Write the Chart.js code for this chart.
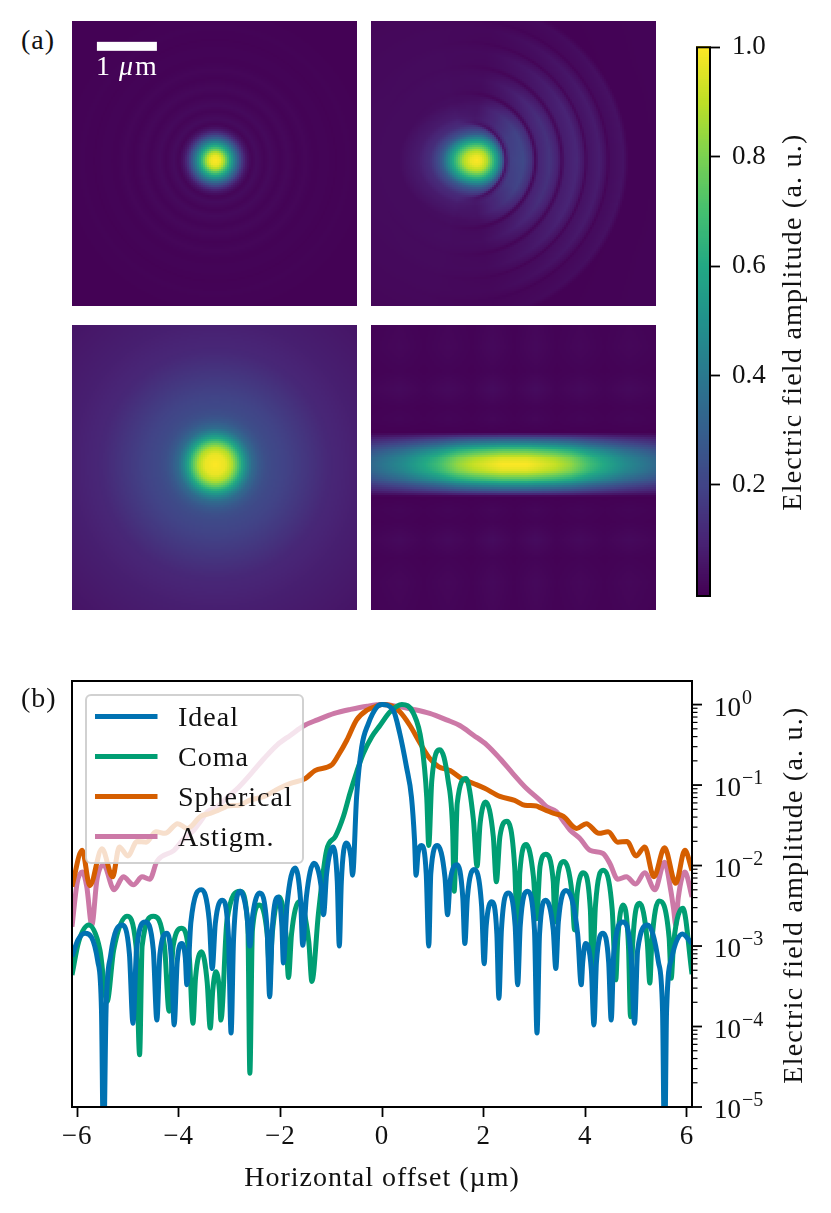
<!DOCTYPE html>
<html>
<head>
<meta charset="utf-8">
<script src="https://cdn.jsdelivr.net/npm/chart.js@4"></script>
<style>
  html, body { margin: 0; padding: 0; background: #fff; }
  #page { position: relative; width: 831px; height: 1213px; overflow: hidden; font-family: "Liberation Serif", serif; color: #111; }
  canvas { position: absolute; }
  .note { position: absolute; font-size: 28px; white-space: nowrap; line-height: 1; letter-spacing: 1px; }
  .side { transform: translate(-50%, -50%) rotate(-90deg); letter-spacing: 1.25px; }
</style>
</head>
<body>
<div id="page">
  <canvas id="panelIdeal" width="285" height="285" style="left:72px;top:21px"></canvas>
  <canvas id="panelComa" width="285" height="285" style="left:371px;top:21px"></canvas>
  <canvas id="panelSpherical" width="285" height="285" style="left:72px;top:325px"></canvas>
  <canvas id="panelAstigm" width="285" height="285" style="left:371px;top:325px"></canvas>
  <canvas id="colorbar" width="135" height="590" style="left:696px;top:27px"></canvas>
  <canvas id="profiles" width="831" height="525" style="left:0;top:670px"></canvas>
  <div class="note" style="left:21px;top:26px">(a)</div>
  <div class="note" style="left:21px;top:684px">(b)</div>
  <div class="note side" style="left:792px;top:322px">Electric field amplitude (a. u.)</div>
  <div class="note side" style="left:793px;top:895px">Electric field amplitude (a. u.)</div>
</div>
<script>
// Panel (b): horizontal cuts, x in um and log10 of the amplitude
const idealX = [-6.1,-5.98,-5.84,-5.59,-5.52,-5.48,-5.43,-5.34,-5.12,-4.97,-4.9,-4.83,-4.66,-4.5,-4.43,-4.37,-4.23,-4.14,-4.09,-4.03,-3.94,-3.87,-3.84,-3.76,-3.55,-3.4,-3.34,-3.28,-3.14,-3.02,-2.97,-2.92,-2.79,-2.66,-2.6,-2.54,-2.41,-2.26,-2.21,-2.16,-2.04,-1.97,-1.94,-1.87,-1.71,-1.6,-1.56,-1.49,-1.34,-1.2,-1.15,-1.09,-0.96,-0.88,-0.84,-0.8,-0.71,-0.61,-0.58,-0.5,-0.4,-0.27,-0.1,0,0.22,0.35,0.48,0.58,0.64,0.67,0.71,0.78,0.87,0.92,0.96,1.09,1.24,1.29,1.34,1.48,1.59,1.63,1.68,1.81,1.96,2.01,2.05,2.16,2.26,2.3,2.35,2.48,2.62,2.67,2.72,2.86,3,3.05,3.1,3.22,3.37,3.42,3.47,3.62,3.85,3.92,3.95,4,4.12,4.17,4.22,4.35,4.46,4.51,4.56,4.74,4.9,4.97,5.03,5.23,5.44,5.52,5.56,5.6,5.7,5.91,6.1];
const idealLog = [-3.13,-2.92,-2.84,-3.2,-3.8,-5.6,-3.8,-3.12,-2.74,-3.1,-3.96,-3.05,-2.7,-3.05,-3.92,-3.1,-2.84,-3.2,-3.98,-3.2,-2.97,-3.15,-3.48,-2.7,-2.3,-2.68,-3.28,-2.72,-2.43,-2.9,-4.08,-2.9,-2.32,-2.6,-3,-2.6,-2.34,-2.8,-3.63,-2.8,-2.39,-2.75,-3.21,-2.5,-2.03,-2.45,-2.99,-2.4,-1.97,-2.25,-2.61,-2.1,-1.77,-2.2,-3,-2.2,-1.72,-1.9,-2.12,-1.15,-0.53,-0.24,-0.03,0,-0.07,-0.36,-0.77,-1.15,-1.68,-2.12,-1.85,-1.75,-2.1,-3,-2.1,-1.75,-2.15,-2.61,-2.2,-1.99,-2.4,-2.97,-2.4,-2.05,-2.5,-3.22,-2.75,-2.45,-2.85,-3.65,-2.8,-2.34,-2.75,-3.48,-2.75,-2.32,-2.8,-4.08,-2.85,-2.43,-2.8,-3.28,-2.7,-2.31,-2.85,-3.48,-3.2,-2.97,-3.3,-3.98,-3.2,-2.84,-3.2,-3.92,-3.1,-2.7,-3.1,-3.96,-3.05,-2.74,-3.2,-3.8,-5.6,-3.8,-3.15,-2.85,-2.97];

const comaX = [-6.1,-5.97,-5.77,-5.55,-5.41,-5.28,-5.02,-4.84,-4.77,-4.72,-4.5,-4.28,-4.19,-4.11,-3.94,-3.79,-3.72,-3.67,-3.55,-3.44,-3.38,-3.33,-3.27,-3.2,-3.17,-3.05,-2.79,-2.64,-2.6,-2.55,-2.41,-2.26,-2.21,-2.16,-2.02,-1.89,-1.84,-1.78,-1.63,-1.44,-1.38,-1.25,-1.09,-0.92,-0.76,-0.63,-0.5,-0.37,-0.2,-0.04,0.16,0.39,0.62,0.78,0.88,0.92,0.98,1.14,1.3,1.39,1.42,1.48,1.65,1.8,1.87,1.93,2.04,2.19,2.25,2.32,2.46,2.61,2.68,2.71,2.84,2.98,3.04,3.11,3.22,3.37,3.4,3.44,3.58,3.74,3.79,3.84,3.96,4.1,4.14,4.2,4.35,4.53,4.6,4.64,4.74,4.85,4.89,4.93,5.07,5.22,5.27,5.31,5.45,5.65,5.69,5.74,5.92,6.1];
const comaLog = [-3.36,-2.95,-2.74,-3.05,-3.69,-3.05,-2.63,-3,-4.35,-3,-2.63,-3,-3.81,-3,-2.78,-3.15,-3.96,-3.4,-3.07,-3.45,-4.02,-3.55,-3.32,-3.55,-3.92,-2.68,-2.32,-2.75,-4.58,-2.8,-2.49,-2.85,-3.34,-2.85,-2.39,-2.85,-3.39,-2.85,-2.45,-2.95,-3.44,-2.59,-1.81,-1.64,-1.39,-1.1,-0.84,-0.61,-0.4,-0.26,-0.09,0,-0.11,-0.48,-1.15,-1.75,-0.94,-0.56,-0.94,-1.56,-2.32,-1.23,-0.92,-1.44,-2.01,-1.48,-1.21,-1.64,-2.2,-1.64,-1.45,-2.01,-3.11,-2.1,-1.74,-2.14,-2.66,-2.01,-1.86,-2.2,-2.7,-2.25,-1.95,-2.35,-2.8,-2.35,-2.09,-2.55,-3.34,-2.5,-2.06,-2.55,-3.42,-2.9,-2.49,-3,-3.88,-3,-2.47,-2.95,-3.46,-2.95,-2.44,-2.9,-3.4,-2.95,-2.53,-3.35];

const sphericalX = [-6.1,-5.9,-5.75,-5.51,-5.3,-5.17,-5,-4.82,-4.64,-4.45,-4.27,-4.02,-3.83,-3.57,-3.37,-3.11,-3.04,-2.81,-2.61,-2.32,-2.02,-1.8,-1.51,-1.32,-0.99,-0.86,-0.69,-0.5,-0.3,-0.1,0,0.16,0.35,0.55,0.75,0.94,1.11,1.34,1.57,1.8,2.02,2.32,2.61,2.81,3.04,3.11,3.37,3.57,3.83,4.02,4.27,4.45,4.64,4.82,5,5.17,5.35,5.56,5.78,5.96,6.1];
const sphericalLog = [-2.26,-1.81,-2.25,-1.79,-2.14,-1.77,-1.88,-1.7,-1.71,-1.58,-1.6,-1.48,-1.54,-1.39,-1.35,-1.28,-1.26,-1.25,-1.19,-1.14,-1.04,-0.98,-0.92,-0.82,-0.75,-0.63,-0.44,-0.19,-0.07,-0.02,0,-0.01,-0.09,-0.26,-0.48,-0.67,-0.77,-0.82,-0.92,-0.98,-1.04,-1.14,-1.19,-1.25,-1.26,-1.28,-1.35,-1.39,-1.54,-1.48,-1.6,-1.58,-1.71,-1.7,-1.88,-1.77,-2.14,-1.78,-2.22,-1.81,-2.06];

const astigmX = [-6.1,-6,-5.9,-5.81,-5.71,-5.61,-5.48,-5.27,-5.09,-4.89,-4.72,-4.57,-4.43,-4.09,-3.89,-3.7,-3.56,-3.43,-3.24,-3.11,-2.84,-2.58,-2.32,-2.06,-1.8,-1.53,-1.27,-0.94,-0.62,-0.29,0,0.29,0.62,0.94,1.27,1.53,1.8,2.06,2.32,2.58,2.84,3.11,3.24,3.43,3.56,3.7,3.89,4.09,4.35,4.48,4.64,4.81,4.99,5.17,5.37,5.56,5.68,5.74,5.78,5.83,5.96,6.1];
const astigmLog = [-2.76,-2.22,-2.08,-2.26,-2.74,-2.18,-1.99,-2.3,-2.14,-2.24,-2.14,-2.17,-1.95,-1.81,-1.66,-1.56,-1.44,-1.33,-1.27,-1.19,-1.04,-0.86,-0.67,-0.5,-0.38,-0.26,-0.19,-0.11,-0.06,-0.02,0,-0.02,-0.06,-0.11,-0.19,-0.26,-0.38,-0.5,-0.67,-0.86,-1.04,-1.19,-1.27,-1.33,-1.44,-1.56,-1.66,-1.81,-1.85,-1.97,-2.17,-2.14,-2.23,-2.09,-2.3,-1.96,-2.3,-2.55,-2.74,-2.4,-2.08,-2.39];

const offsetTicks = [-6, -4, -2, 0, 2, 4, 6];
const decades = [-5, -4, -3, -2, -1, 0];
const minorSteps = [2, 3, 4, 5, 6, 7, 8, 9];
const colorbarTicks = [0.2, 0.4, 0.6, 0.8, 1.0];

// Panel (a): amplitude tables, distances in um
const idealR = [0,0.08,0.14,0.2,0.27,0.33,0.39,0.44,0.5,0.55,0.6,0.69,0.82,0.92,1.08,1.2,1.36,1.5,1.65,1.8,2,2.2,2.5,3.4];
const idealA = [1,0.97,0.88,0.72,0.55,0.4,0.27,0.17,0.08,0.04,0.012,0.03,0.01,0.025,0.008,0.02,0.006,0.015,0.005,0.01,0.004,0.008,0.004,0.003];

const sphericalR = [0,0.17,0.28,0.36,0.44,0.53,0.61,0.72,0.83,0.94,1.22,1.56,1.89,2.39,3.33];
const sphericalA = [1,0.97,0.88,0.75,0.6,0.45,0.35,0.28,0.24,0.22,0.19,0.15,0.11,0.085,0.055];

const comaLobeR = [0,0.08,0.17,0.25,0.33,0.39,0.44,0.5,0.6,0.75,1,4];
const comaLobeA = [1,0.97,0.88,0.72,0.55,0.42,0.3,0.22,0.13,0.07,0.03,0.005];
const comaRingR = [0,0.62,0.66,0.72,0.92,1.06,1.12,1.18,1.36,1.5,1.56,1.62,1.81,1.92,1.96,2,2.19,2.29,2.33,2.37,2.58,2.67,3.5];
const comaRingA = [0,0,0.12,0.19,0.22,0.14,0.02,0.1,0.15,0.09,0.02,0.08,0.11,0.06,0.015,0.05,0.08,0.04,0.01,0.03,0.05,0.005,0.01];
const comaAngleDeg = [0,30,50,65,80,100,140,180];
const comaAngleW = [1,0.9,0.65,0.4,0.15,0.05,0.02,0.02];
const comaEdgeR = [0,0.5,0.58,0.64,5];
const comaEdgeW = [1,1,0.85,0,0];
const comaEdgeAngleDeg = [0,55,75,105,180];
const comaEdgeAngleW = [1,1,0.7,0,0];

const astigmAlongX = [0,0.2,0.39,0.67,0.94,1.28,1.83,2.4];
const astigmAlongA = [1,1,0.97,0.92,0.84,0.68,0.48,0.33];
const astigmAcrossY = [0,0.11,0.25,0.33,0.42,0.5,0.53,3];
const astigmAcrossA = [1,0.95,0.72,0.5,0.3,0.08,0,0];
const rippleRowY = [0,0.53,0.75,0.95,1.25,1.55,1.95,2.4];
const rippleRowA = [0,0,0.015,0.008,0.03,0.01,0.022,0.015];
const rippleColX = [0,0.36,0.7,1.1,1.5,1.9,2.4];
const rippleColW = [0.3,1,0.3,0.8,0.3,0.8,0.3];

const viridisStops = ["#440154","#482475","#414487","#355f8d","#2a788e","#21918c","#22a884","#44bf70","#7ad151","#bddf26","#fde725"];

const FONT = '"Liberation Serif", serif';
const SERIES_COLORS = ["#0072B2", "#009E73", "#D55E00", "#CC79A7"];

function lookup(xs, ys, v) {
    if (v <= xs[0]) return ys[0];
    for (let i = 1; i < xs.length; i++) {
        if (v <= xs[i]) {
            const t = (v - xs[i - 1]) / (xs[i] - xs[i - 1]);
            return ys[i - 1] + t * (ys[i] - ys[i - 1]);
        }
    }
    return ys[ys.length - 1];
}

const viridisRgb = viridisStops.map((c) => [1, 3, 5].map((i) => parseInt(c.slice(i, i + 2), 16)));
function viridis(v) {
    const p = Math.min(Math.max(v, 0), 1) * (viridisRgb.length - 1);
    const i = Math.min(Math.floor(p), viridisRgb.length - 2);
    const rgb = viridisRgb[i].map((c, k) => Math.round(c + (p - i) * (viridisRgb[i + 1][k] - c)));
    return `rgb(${rgb[0]},${rgb[1]},${rgb[2]})`;
}

// Value of each image at (x, y), looked up in the tables above
function idealCell(x, y) {
    return lookup(idealR, idealA, Math.hypot(x, y));
}
function sphericalCell(x, y) {
    return lookup(sphericalR, sphericalA, Math.hypot(x, y));
}
function comaCell(x, y) {
    const dx = x + 0.62;
    const lobe = lookup(comaLobeR, comaLobeA, Math.hypot(dx / (dx > 0 ? 1 : 1.3), y));
    const rx = x + 0.77;
    const r = Math.hypot(rx, y);
    const angle = Math.abs(Math.atan2(y, rx)) * 180 / Math.PI;
    const ring = lookup(comaRingR, comaRingA, r) * lookup(comaAngleDeg, comaAngleW, angle);
    const edge = 1 - (1 - lookup(comaEdgeR, comaEdgeW, r)) * lookup(comaEdgeAngleDeg, comaEdgeAngleW, angle);
    return lobe * edge + ring;
}
function astigmCell(x, y) {
    const ax = Math.abs(x), ay = Math.abs(y);
    return lookup(astigmAlongX, astigmAlongA, ax) * lookup(astigmAcrossY, astigmAcrossA, ay)
        + lookup(rippleRowY, rippleRowA, ay) * lookup(rippleColX, rippleColW, ax);
}

// Fills the dataset's cells through the chart's scales
const cellsPlugin = {
    id: "cells",
    beforeDatasetsDraw(chart) {
        const { ctx, scales: { x, y } } = chart;
        const meta = chart.data.datasets[0];
        const halfW = meta.cellW / 2, halfH = meta.cellH / 2;
        meta.data.forEach((c) => {
            const x0 = Math.floor(x.getPixelForValue(c.x - halfW));
            const x1 = Math.ceil(x.getPixelForValue(c.x + halfW));
            const y0 = Math.floor(y.getPixelForValue(c.y + halfH));
            const y1 = Math.ceil(y.getPixelForValue(c.y - halfH));
            ctx.fillStyle = viridis(c.v);
            ctx.fillRect(x0, y0, x1 - x0, y1 - y0);
        });
    },
};

function makePanel(id, cellFn, scaleBar) {
    const N = 143;
    const xMin = -2.395, xMax = 2.355, yMin = -2.43, yMax = 2.317;
    const cellW = (xMax - xMin) / N, cellH = (yMax - yMin) / N;
    const cells = [];
    for (let i = 0; i < N; i++) {
        for (let j = 0; j < N; j++) {
            const cx = xMin + (i + 0.5) * cellW, cy = yMin + (j + 0.5) * cellH;
            cells.push({ x: cx, y: cy, v: cellFn(cx, cy) });
        }
    }
    const plugins = [cellsPlugin];
    if (scaleBar) {
        plugins.push({
            id: "scaleBar",
            afterDatasetsDraw(chart) {
                const { ctx, scales: { x, y } } = chart;
                const left = x.getPixelForValue(-1.98), right = x.getPixelForValue(-0.98);
                const top = y.getPixelForValue(1.97);
                ctx.save();
                ctx.fillStyle = "#fff";
                ctx.fillRect(left, top, right - left, 9);
                ctx.font = `28px ${FONT}`;
                ctx.textBaseline = "alphabetic";
                ctx.fillText("1", left - 1, top + 33);
                ctx.font = `italic 28px ${FONT}`;
                ctx.fillText("\u03bc", left + 22, top + 33);
                ctx.font = `28px ${FONT}`;
                ctx.fillText("m", left + 38, top + 33);
                ctx.restore();
            },
        });
    }
    new Chart(document.getElementById(id), {
        type: "scatter",
        data: { datasets: [{ data: cells, cellW, cellH, pointRadius: 0, pointHoverRadius: 0 }] },
        options: {
            responsive: false,
            animation: false,
            events: [],
            layout: { padding: 0 },
            plugins: { legend: { display: false }, tooltip: { enabled: false } },
            scales: {
                x: { display: false, min: xMin, max: xMax },
                y: { display: false, min: yMin, max: yMax },
            },
        },
        plugins,
    });
}

makePanel("panelIdeal", idealCell, true);
makePanel("panelComa", comaCell, false);
makePanel("panelSpherical", sphericalCell, false);
makePanel("panelAstigm", astigmCell, false);

// Colorbar
const barLevels = [];
for (let i = 0; i < 256; i++) barLevels.push(i / 255);

new Chart(document.getElementById("colorbar"), {
    type: "scatter",
    data: {
        datasets: [{
            data: barLevels.map((v) => ({ x: 0.5, y: v, v })),
            cellW: 1,
            cellH: 1 / 255,
            pointRadius: 0,
        }],
    },
    options: {
        responsive: false,
        animation: false,
        events: [],
        layout: { padding: { top: 20.3, bottom: 21 } },
        plugins: { legend: { display: false }, tooltip: { enabled: false } },
        scales: {
            x: { display: false, min: 0, max: 1 },
            y: {
                position: "right",
                min: -0.003,
                max: 1,
                afterBuildTicks(axis) { axis.ticks = colorbarTicks.map((value) => ({ value })); },
                afterFit(axis) {
                    axis.width = 121;
                    axis.paddingTop = 0;
                    axis.paddingBottom = 0;
                },
                border: { display: false },
                grid: { drawOnChartArea: false, drawTicks: true, tickLength: 10, tickColor: "#000", tickWidth: 1.8 },
                ticks: {
                    color: "#111",
                    padding: 12,
                    font: { family: FONT, size: 27 },
                    callback: (v) => Number(v).toFixed(1),
                },
            },
        },
    },
    plugins: [cellsPlugin, {
        id: "barFrame",
        afterDatasetsDraw(chart) {
            const { ctx, chartArea: a } = chart;
            ctx.save();
            ctx.strokeStyle = "#000";
            ctx.lineWidth = 2;
            ctx.strokeRect(a.left + 1, a.top, a.right - a.left - 1, a.bottom - a.top);
            ctx.restore();
        },
    }],
});

// Line profiles
function series(label, xs, logs, color) {
    return {
        label,
        data: xs.map((x, i) => ({ x, y: Math.pow(10, logs[i]) })),
        borderColor: color,
        borderWidth: 5,
        pointRadius: 0,
        cubicInterpolationMode: "monotone",
        borderJoinStyle: "round",
        borderCapStyle: "butt",
    };
}

const framePlugin = {
    id: "frame",
    beforeDraw(chart) {
        chart.ctx.letterSpacing = "1px";
    },
    afterDatasetsDraw(chart) {
        const { ctx, chartArea: a, scales: { y } } = chart;
        ctx.save();

        // legend box over the lines
        const boxX = 86, boxY = 25, boxW = 217, boxH = 168;
        ctx.beginPath();
        ctx.roundRect(boxX, boxY, boxW, boxH, 5);
        ctx.fillStyle = "rgba(255,255,255,0.8)";
        ctx.fill();
        ctx.strokeStyle = "rgba(204,204,204,0.9)";
        ctx.lineWidth = 2;
        ctx.stroke();
        ctx.font = `28px ${FONT}`;
        ctx.textBaseline = "middle";
        chart.data.datasets.forEach((ds, i) => {
            const rowY = 46.5 + i * 40;
            ctx.strokeStyle = ds.borderColor;
            ctx.lineWidth = 5;
            ctx.beginPath();
            ctx.moveTo(95, rowY);
            ctx.lineTo(157.5, rowY);
            ctx.stroke();
            ctx.fillStyle = "#111";
            ctx.fillText(ds.label, 178, rowY + 2);
        });

        // frame
        ctx.strokeStyle = "#000";
        ctx.lineWidth = 2;
        ctx.strokeRect(a.left, a.top, a.right - a.left, a.bottom - a.top);

        // log ticks and labels on the right
        ctx.letterSpacing = "0px";
        decades.forEach((d) => {
            const py = y.getPixelForValue(Math.pow(10, d));
            ctx.lineWidth = 1.8;
            ctx.beginPath();
            ctx.moveTo(a.right, py);
            ctx.lineTo(a.right + 10, py);
            ctx.stroke();
            ctx.fillStyle = "#111";
            ctx.textBaseline = "alphabetic";
            ctx.font = `27px ${FONT}`;
            ctx.fillText("10", 714, py + 11);
            ctx.font = `20px ${FONT}`;
            ctx.fillText(d === 0 ? "0" : "\u2212" + Math.abs(d), 742, py - 1);
            if (d < 0) {
                minorSteps.forEach((m) => {
                    const my = y.getPixelForValue(m * Math.pow(10, d));
                    ctx.lineWidth = 1.2;
                    ctx.beginPath();
                    ctx.moveTo(a.right, my);
                    ctx.lineTo(a.right + 5.5, my);
                    ctx.stroke();
                });
            }
        });
        ctx.restore();
    },
};

new Chart(document.getElementById("profiles"), {
    type: "line",
    data: {
        datasets: [
            series("Ideal", idealX, idealLog, SERIES_COLORS[0]),
            series("Coma", comaX, comaLog, SERIES_COLORS[1]),
            series("Spherical", sphericalX, sphericalLog, SERIES_COLORS[2]),
            series("Astigm.", astigmX, astigmLog, SERIES_COLORS[3]),
        ],
    },
    options: {
        responsive: false,
        animation: false,
        events: [],
        layout: { padding: { left: 72, top: 11, right: 0, bottom: 0 } },
        plugins: { legend: { display: false }, tooltip: { enabled: false } },
        scales: {
            x: {
                type: "linear",
                min: -6.1,
                max: 6.1,
                afterBuildTicks(axis) { axis.ticks = offsetTicks.map((value) => ({ value })); },
                afterFit(axis) { axis.height = 88; },
                border: { display: false },
                grid: { drawOnChartArea: false, drawTicks: true, tickLength: 10, tickColor: "#000", tickWidth: 1.8 },
                ticks: {
                    color: "#111",
                    padding: 4,
                    maxRotation: 0,
                    font: { family: FONT, size: 27 },
                    callback: (v) => (v < 0 ? "\u2212" + Math.abs(v) : String(v)),
                },
                title: {
                    display: true,
                    text: "Horizontal offset (\u00b5m)",
                    color: "#111",
                    font: { family: FONT, size: 28 },
                    padding: { top: 6, bottom: 0 },
                },
            },
            y: {
                type: "logarithmic",
                position: "right",
                min: 1e-5,
                max: 1.963,
                afterFit(axis) { axis.width = 139; },
                border: { display: false },
                grid: { display: false },
                ticks: { display: false },
            },
        },
    },
    plugins: [framePlugin],
});
</script>
</body>
</html>
